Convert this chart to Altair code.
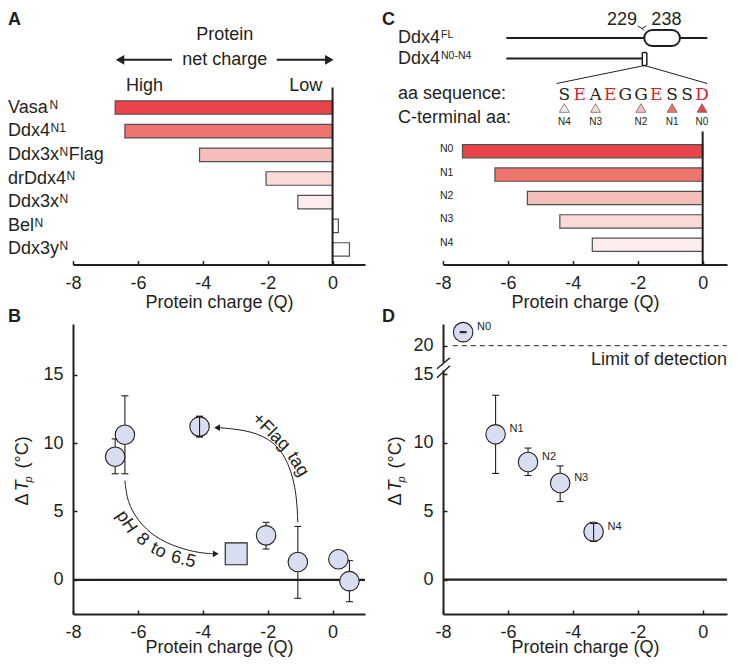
import altair as alt
import pandas as pd

FONT = "Liberation Sans"
SERIF = "DejaVu Serif"
INK = "#231f20"
RED = "#d9232b"
PT_FILL = "#d8ddf2"
EDGE = "#505050"

# ---------------- Panel A: protein net charge ----------------
a_keys = ["VasaN", "Ddx4N1", "Ddx3xNFlag", "drDdx4N", "Ddx3xN", "BelN", "Ddx3yN"]
a_base = ["Vasa", "Ddx4", "Ddx3x", "drDdx4", "Ddx3x", "Bel", "Ddx3y"]
a_sup = ["N", "N1", "N", "N", "N", "N", "N"]
a_tail = ["", "", "Flag", "", "", "", ""]
a_charge = [-6.7, -6.4, -4.1, -2.05, -1.07, 0.18, 0.52]
a_colors = ["#e8444a", "#ee746d", "#f4bfbb", "#f9dad7", "#fcecee", "#ffffff", "#ffffff"]

# ---------------- Panel B: dTp vs charge ----------------
b_charge = [-6.7, -6.4, -4.1, -2.05, -1.07, 0.18, 0.52]
b_dtp = [9.0, 10.6, 11.2, 3.25, 1.3, 1.5, -0.1]
b_lo = [7.75, 7.75, 10.45, 2.25, -1.35, 1.5, -1.6]
b_hi = [10.3, 13.45, 11.95, 4.2, 3.9, 1.5, 1.4]
b_front = [0, 0, 1, 0, 0, 0, 0]
sq_charge = [-2.97]
sq_dtp = [1.9]
flag_arc_x = [-1.07, -1.12, -1.45, -1.98, -2.68, -3.48]
flag_arc_y = [4.2, 6.8, 9.15, 10.4, 10.95, 11.12]
ph_arc_x = [-6.4, -6.33, -6.0, -5.48, -4.78, -4.09, -3.62]
ph_arc_y = [7.25, 5.7, 4.3, 3.1, 2.35, 1.95, 1.9]
b_words = ["+Flag", "tag", "pH", "8", "to", "6.5"]
b_word_x = [-1.9, -1.07, -6.36, -5.86, -5.37, -4.60]
b_word_y = [10.8, 8.43, 4.23, 2.93, 2.13, 1.47]
b_word_ang = [45, 58, 56, 44, 26, 14]

# ---------------- Panel C: truncations ----------------
c_ids = ["N0", "N1", "N2", "N3", "N4"]
c_charge = [-7.4, -6.4, -5.4, -4.4, -3.4]
c_colors = ["#e8444a", "#ee6e68", "#f29b93", "#f6c3bf", "#fae0de"]
seq_letters = ["S", "E", "A", "E", "G", "G", "E", "S", "S", "D"]
seq_pos = [-4.26, -3.79, -3.30, -2.85, -2.38, -1.90, -1.43, -0.94, -0.48, -0.02]
seq_acidic = ["no", "yes", "no", "yes", "no", "no", "yes", "no", "no", "yes"]
tri_ids = ["N4", "N3", "N2", "N1", "N0"]
tri_pos = [-4.26, -3.30, -1.90, -0.94, -0.02]

# ---------------- Panel D: dTp of truncations ----------------
d_ids = ["N0", "N1", "N2", "N3", "N4"]
d_charge = [-7.38, -6.38, -5.38, -4.39, -3.36]
d_dtp = [21.0, 10.6, 8.58, 7.05, 3.5]
d_lo = [20.96, 7.75, 7.6, 5.7, 2.8]
d_hi = [21.04, 13.45, 9.6, 8.3, 4.1]
d_front = [1, 0, 0, 0, 1]

# Arial-compatible advance widths (per 1000 em) used to place superscripts
ARIAL = {"V": 667, "a": 556, "s": 500, "D": 722, "d": 556, "x": 500, "3": 556,
         "4": 556, "r": 333, "B": 667, "e": 556, "l": 222, "y": 500, "N": 722,
         "1": 556, "F": 611, "L": 556, "0": 556, "-": 333, "g": 556}


def tw(s, fs):
    return sum(ARIAL.get(c, 556) for c in s) * fs / 1000.0


one = pd.DataFrame({"k": [0]})
TOP = -76.5  # top edge of the highest header texts (px, relative to top-row plot)
SUP = 12


def T(text, x, y, size=18, align="left", baseline="middle", color=INK, font=FONT, **kw):
    return alt.Chart(one).mark_text(text=text, font=font, fontSize=size, align=align,
                                    baseline=baseline, color=color, **kw).encode(x=x, y=y)


def R(x, y, x2=None, y2=None, w=1.0, **kw):
    enc = dict(x=x, y=y)
    if x2 is not None:
        enc["x2"] = x2
    if y2 is not None:
        enc["y2"] = y2
    return alt.Chart(one).mark_rule(color=INK, strokeWidth=w, **kw).encode(**enc)


XS_L = alt.Scale(domain=[-8, 1], nice=False, zero=False)
XS_R = alt.Scale(domain=[-8, 0.75], nice=False, zero=False)


def x_axis(title_y):
    return alt.Axis(values=[-8, -6, -4, -2, 0], title="Protein charge (Q)", titleY=title_y,
                    titleBaseline="alphabetic", titleFont=FONT, titleFontSize=18,
                    titleFontWeight="normal", titleColor=INK, labelFont=FONT, labelFontSize=18,
                    labelColor=INK, labelFlush=False, labelOverlap=False, labelPadding=13.5,
                    labelExpr="'' + datum.value",
                    grid=False, domainColor=INK, domainWidth=2, tickColor=INK, tickWidth=1.5,
                    tickSize={"expr": "-4"})


def y_axis(values):
    return alt.Axis(values=values, title=None, labelFont=FONT, labelFontSize=18, labelColor=INK,
                    labelPadding=14, grid=False, domainColor=INK, domainWidth=2, tickColor=INK,
                    tickWidth=1.5, tickSize={"expr": "-4"}, labelOverlap=False,
                    labelExpr="'' + datum.value")


def make_x(scale, title_y):
    def f(field):
        return alt.X(field, type="quantitative", scale=scale, axis=x_axis(title_y))
    return f


XA = make_x(XS_L, 43)
XC = make_x(XS_R, 43)
XB = make_x(XS_L, 38)
XD = make_x(XS_R, 38)

# ======================= Panel A =======================
dfA = pd.DataFrame({"key": a_keys, "base": a_base, "q": a_charge})
YA = alt.Y("key:N", scale=alt.Scale(domain=a_keys, range=[8.2, 173.8], paddingInner=0.43,
                                    paddingOuter=0.215), axis=None)
layersA = [
    alt.Chart(dfA).mark_bar(stroke=EDGE, strokeWidth=1.2).encode(
        x=XA("q"), y=YA,
        fill=alt.Fill("key:N", scale=alt.Scale(domain=a_keys, range=a_colors), legend=None)),
    alt.Chart(one).mark_rule(color=INK, strokeWidth=2).encode(x=alt.datum(0)),
    alt.Chart(dfA).mark_text(align="left", baseline="middle", font=FONT, fontSize=18,
                             color=INK).encode(x=alt.value(-65), y=YA, text="base:N"),
]
for k, b, s, t in zip(a_keys, a_base, a_sup, a_tail):
    sx = -65 + tw(b, 18) + 0.5
    layersA.append(
        alt.Chart(pd.DataFrame({"key": [k], "s": [s]})).mark_text(
            align="left", baseline="alphabetic", dy=1, font=FONT, fontSize=SUP, color=INK
        ).encode(x=alt.value(sx), y=YA, text="s:N"))
    if t:
        tx = sx + tw(s, SUP) + 0.5
        layersA.append(
            alt.Chart(pd.DataFrame({"key": [k], "s": [t]})).mark_text(
                align="left", baseline="middle", font=FONT, fontSize=18, color=INK
            ).encode(x=alt.value(tx), y=YA, text="s:N"))
layersA += [
    T("Protein", alt.datum(-3.32), alt.value(-53), align="center"),
    T("net charge", alt.datum(-3.32), alt.value(-27.7), align="center"),
    R(alt.datum(-6.5), alt.value(-27.7), x2=alt.datum(-4.95), w=2),
    R(alt.datum(-1.72), alt.value(-27.7), x2=alt.datum(-0.15), w=2),
    alt.Chart(one).mark_point(shape="triangle-left", filled=True, size=95, color=INK,
                              opacity=1).encode(x=alt.datum(-6.55), y=alt.value(-27.7)),
    alt.Chart(one).mark_point(shape="triangle-right", filled=True, size=95, color=INK,
                              opacity=1).encode(x=alt.datum(-0.1), y=alt.value(-27.7)),
    T("High", alt.datum(-6.37), alt.value(-2)),
    T("Low", alt.datum(-0.32), alt.value(-2), align="right"),
    T("A", alt.value(-65), alt.value(TOP), baseline="top", fontWeight="bold"),
]
panelA = alt.layer(*layersA).properties(width=292, height=177)

# ======================= Panel C =======================
dfC = pd.DataFrame({"nid": c_ids, "q": c_charge})
YC = alt.Y("nid:N", scale=alt.Scale(domain=c_ids, range=[52, 169], paddingInner=0.43,
                                    paddingOuter=0.215), axis=None)
FILL_C = alt.Fill("nid:N", scale=alt.Scale(domain=c_ids, range=c_colors), legend=None)
dfSeq = pd.DataFrame({"letter": seq_letters, "pos": seq_pos, "acid": seq_acidic})
dfTri = pd.DataFrame({"nid": tri_ids, "pos": tri_pos})

layersC = [
    alt.Chart(dfC).mark_bar(stroke=EDGE, strokeWidth=1.2).encode(x=XC("q"), y=YC, fill=FILL_C),
    R(alt.datum(0), alt.value(44), y2=alt.value(177), w=2),
    alt.Chart(dfC).mark_text(align="left", baseline="middle", dy=-2, font=FONT, fontSize=10.5,
                             color=INK).encode(x=alt.value(-3), y=YC, text="nid:N"),
    T("C", alt.value(-61), alt.value(TOP), baseline="top", fontWeight="bold"),
    T("229", alt.datum(-2.02), alt.value(TOP), align="right", baseline="top"),
    T("238", alt.datum(-1.58), alt.value(TOP), align="left", baseline="top"),
    R(alt.datum(-2.0), alt.value(-61.5), x2=alt.datum(-1.87), y2=alt.value(-59), w=1),
    R(alt.datum(-1.74), alt.value(-61.5), x2=alt.datum(-1.87), y2=alt.value(-59), w=1),
    R(alt.datum(-1.87), alt.value(-59), x2=alt.datum(-1.82), y2=alt.value(-57), w=1),
    R(alt.datum(-6.05), alt.value(-49.5), x2=alt.datum(0.145), w=2),
    alt.Chart(one).mark_rect(cornerRadius=8, fill="white", stroke=INK, strokeWidth=2).encode(
        x=alt.datum(-1.80), x2=alt.datum(-0.70), y=alt.value(-57.5), y2=alt.value(-41.5)),
    R(alt.datum(-6.05), alt.value(-29), x2=alt.datum(-1.84), w=2),
    alt.Chart(one).mark_rect(cornerRadius=1, fill="white", stroke=INK, strokeWidth=1.5).encode(
        x=alt.datum(-1.86), x2=alt.datum(-1.72), y=alt.value(-35), y2=alt.value(-22)),
    R(alt.datum(-1.79), alt.value(-22), x2=alt.datum(-4.5), y2=alt.value(-4), w=1),
    R(alt.datum(-1.79), alt.value(-22), x2=alt.datum(0.145), y2=alt.value(-4), w=1),
    T("Ddx4", alt.value(-45), alt.value(-49.5)),
    T("FL", alt.value(-45 + tw("Ddx4", 18) + 1), alt.value(-49.5), size=10.5,
      baseline="alphabetic"),
    T("Ddx4", alt.value(-45), alt.value(-29)),
    T("N0-N4", alt.value(-45 + tw("Ddx4", 18) + 1), alt.value(-29), size=10.5,
      baseline="alphabetic"),
    T("aa sequence:", alt.value(-45), alt.value(6)),
    T("C-terminal aa:", alt.value(-45), alt.value(30)),
    alt.Chart(dfSeq).mark_text(font=SERIF, fontSize=17, align="center", baseline="middle").encode(
        x=XC("pos"), y=alt.value(7), text="letter:N",
        color=alt.Color("acid:N", scale=alt.Scale(domain=["yes", "no"], range=[RED, INK]),
                        legend=None)),
    alt.Chart(dfTri).mark_point(shape="triangle-up", filled=True, size=100, stroke="#6b6b6b",
                                strokeWidth=0.8, opacity=1).encode(
        x=XC("pos"), y=alt.value(20.5), fill=FILL_C),
    alt.Chart(dfTri).mark_text(font=FONT, fontSize=10, align="center", baseline="middle",
                               color=INK).encode(x=XC("pos"), y=alt.value(34.5), text="nid:N"),
]
panelC = alt.layer(*layersC).properties(width=284, height=177)

# ======================= Panel B =======================
YBs = alt.Scale(domain=[-2.5, 18.7], nice=False, zero=False)


def YB(f):
    return alt.Y(f, type="quantitative", scale=YBs, axis=y_axis([0, 5, 10, 15]))


def ytitle(xc, xp):
    return [
        T("\u0394", alt.value(xc), alt.value(175.5), align="center", angle=270),
        T("T", alt.value(xc), alt.value(161.7), align="center", angle=270, fontStyle="italic"),
        T("p", alt.value(xp), alt.value(155.5), size=11, align="center", angle=270,
          fontStyle="italic"),
        T("(\u00b0C)", alt.value(xc), alt.value(128.3), align="center", angle=270),
    ]


dfB = pd.DataFrame({"q": b_charge, "t": b_dtp, "lo": b_lo, "hi": b_hi, "front": b_front})
dfSq = pd.DataFrame({"q": sq_charge, "t": sq_dtp})
dfFlag = pd.DataFrame({"x": flag_arc_x, "y": flag_arc_y, "i": list(range(len(flag_arc_x)))})
dfPh = pd.DataFrame({"x": ph_arc_x, "y": ph_arc_y, "i": list(range(len(ph_arc_x)))})
dfW = pd.DataFrame({"w": b_words, "x": b_word_x, "y": b_word_y, "a": b_word_ang})


def err_layers(df, X, Y, front_only=False):
    base = alt.Chart(df)
    if front_only:
        base = base.transform_filter("datum.front == 1")
    return [
        base.mark_rule(color=INK, strokeWidth=1.1).encode(x=X("q"), y=Y("lo"), y2="hi:Q"),
        base.mark_tick(orient="horizontal", size=7, thickness=1.1, color=INK, opacity=1).encode(
            x=X("q"), y=Y("lo")),
        base.mark_tick(orient="horizontal", size=7, thickness=1.1, color=INK, opacity=1).encode(
            x=X("q"), y=Y("hi")),
    ]


layersB = [alt.Chart(one).mark_rule(color=INK, strokeWidth=2.2).encode(y=alt.datum(0))]
layersB += err_layers(dfB, XB, YB)
layersB += [
    alt.Chart(dfB).mark_circle(size=380, fill=PT_FILL, stroke=INK, strokeWidth=1.1,
                               opacity=1).encode(x=XB("q"), y=YB("t")),
    alt.Chart(dfSq).mark_square(size=480, fill=PT_FILL, stroke=INK, strokeWidth=1.1,
                                opacity=1).encode(x=XB("q"), y=YB("t")),
]
layersB += err_layers(dfB, XB, YB, front_only=True)
layersB += [
    alt.Chart(dfFlag).mark_line(interpolate="basis", color=INK, strokeWidth=1).encode(
        x=XB("x"), y=YB("y"), order="i:Q"),
    alt.Chart(dfPh).mark_line(interpolate="basis", color=INK, strokeWidth=1).encode(
        x=XB("x"), y=YB("y"), order="i:Q"),
    alt.Chart(one).mark_point(shape="triangle-left", filled=True, size=45, color=INK,
                              opacity=1).encode(x=alt.datum(-3.56), y=alt.datum(11.12)),
    alt.Chart(one).mark_point(shape="triangle-right", filled=True, size=45, color=INK,
                              opacity=1).encode(x=alt.datum(-3.6), y=alt.datum(1.9)),
    alt.Chart(dfW).mark_text(font=FONT, fontSize=18, color=INK, align="center",
                             baseline="middle").encode(
        x=XB("x"), y=YB("y"), text="w:N", angle=alt.Angle("a:Q", scale=None)),
    T("B", alt.value(-65), alt.value(-7), fontWeight="bold"),
]
layersB += ytitle(-50, -44)
panelB = alt.layer(*layersB).properties(width=292, height=290)

# ======================= Panel D =======================
YDs = alt.Scale(domain=[-2.5, 15, 20, 21.6], range=[290, 50, 21.7, 0], nice=False, zero=False)


def YD(f):
    return alt.Y(f, type="quantitative", scale=YDs, axis=y_axis([0, 5, 10, 15, 20]))


dfD = pd.DataFrame({"nid": d_ids, "q": d_charge, "t": d_dtp, "lo": d_lo, "hi": d_hi,
                    "front": d_front})
layersD = [
    alt.Chart(one).mark_rule(color=INK, strokeWidth=2.2).encode(y=alt.datum(0)),
    alt.Chart(one).mark_rule(color=INK, strokeWidth=1, strokeDash=[5, 4]).encode(
        x=alt.datum(-7.7), x2=alt.datum(0.75), y=alt.datum(20)),
    T("Limit of detection", alt.datum(0.75), alt.datum(17.4), align="right"),
    alt.Chart(one).mark_rect(fill="white").encode(
        x=alt.value(-4), x2=alt.value(4), y=alt.value(38.5), y2=alt.value(46.5)),
    R(alt.value(-6), alt.value(44.7), x2=alt.value(7), y2=alt.value(33.7), w=1.5),
    R(alt.value(-6), alt.value(53.7), x2=alt.value(7), y2=alt.value(41.7), w=1.5),
]
layersD += err_layers(dfD, XD, YD)
layersD += [
    alt.Chart(dfD).mark_circle(size=380, fill=PT_FILL, stroke=INK, strokeWidth=1.1,
                               opacity=1).encode(x=XD("q"), y=YD("t")),
]
layersD += err_layers(dfD, XD, YD, front_only=True)
layersD += [
    alt.Chart(dfD).mark_text(font=FONT, fontSize=11, color=INK, align="left", baseline="middle",
                             dx=14, dy=-5).encode(x=XD("q"), y=YD("t"), text="nid:N"),
    T("D", alt.value(-61), alt.value(-7), fontWeight="bold"),
]
layersD += ytitle(-47.5, -41.5)
panelD = alt.layer(*layersD).properties(width=284, height=290)

chart = alt.concat(panelA, panelC, panelB, panelD, columns=2,
                   spacing={"row": 59.5, "column": 78}, bounds="flush").properties(
    padding={"top": 2.5, "left": 0, "right": 0, "bottom": 0}).configure_view(strokeWidth=0)

chart.save("out.html", embed_options={"renderer": "svg", "actions": False})
